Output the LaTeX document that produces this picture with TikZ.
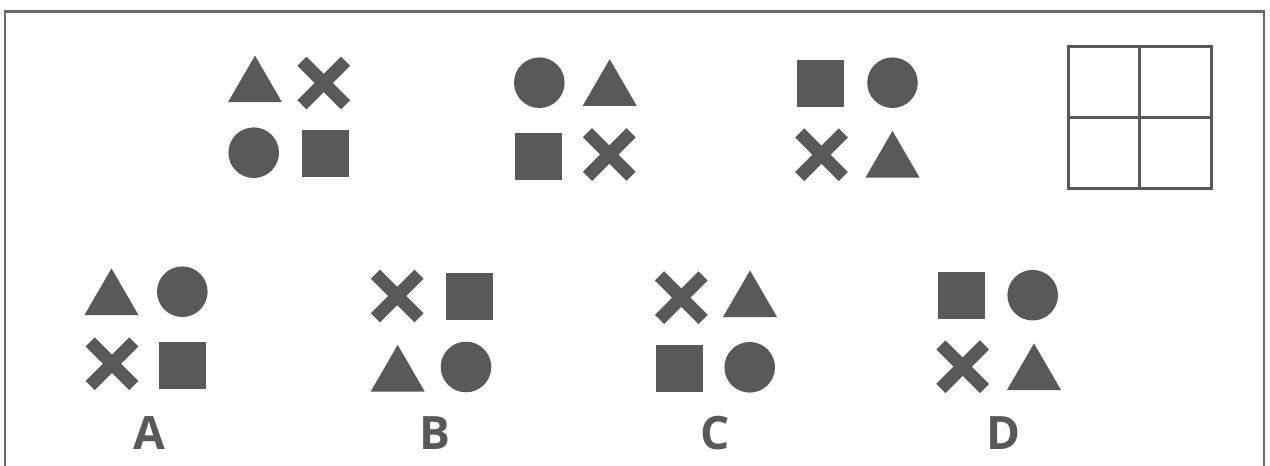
\documentclass[tikz,border=0pt]{standalone}
\usepackage{fontspec}
\newfontfamily\labelfont{Open Sans}
\definecolor{shapegray}{HTML}{58595B}
\definecolor{framegray}{HTML}{6A6A6A}
\tikzset{
  x=1pt, y=-1pt,
  shapefill/.style={fill=shapegray, draw=none},
  frameline/.style={draw=framegray, line width=2.2pt},
  gridline/.style={draw=shapegray, line width=2.6pt},
  optlabel/.style={text=shapegray, font=\labelfont\bfseries\fontsize{46}{46}\selectfont, anchor=base, inner sep=0pt},
  pics/tri/.style={code={\fill[shapegray] (-27,23.3) -- (27,23.3) -- (0,-23.3) -- cycle;}},
  pics/crossmark/.style={code={
    \draw[shapegray, line width=13pt, line cap=butt] (-21.8,-21.8) -- (21.8,21.8);
    \draw[shapegray, line width=13pt, line cap=butt] (-21.8,21.8) -- (21.8,-21.8);}},
  pics/sq/.style={code={\fill[shapegray] (-23.5,-23.5) rectangle (23.5,23.5);}},
  pics/disc/.style={code={\fill[shapegray] (0,0) circle[radius=25.3];}},
}
\begin{document}
\begin{tikzpicture}
\useasboundingbox (0,0) rectangle (1270,466);
% frame
\draw[frameline] (5,475) -- (5,11.5) -- (1264,11.5) -- (1264,475);
% empty grid
\draw[gridline] (1068.3,46.7) rectangle (1211.7,188.3);
\draw[gridline] (1139.5,46.7) -- (1139.5,188.3);
\draw[gridline] (1068.3,117.5) -- (1211.7,117.5);
% group 1
\pic at (255,78.9) {tri};
\pic at (323.7,83) {crossmark};
\pic at (253.7,152.7) {disc};
\pic at (325.5,153.3) {sq};
% group 2
\pic at (539.3,82.7) {disc};
\pic at (609.7,82.5) {tri};
\pic at (538.5,156.3) {sq};
\pic at (609.3,154.5) {crossmark};
% group 3
\pic at (820.5,83.5) {sq};
\pic at (892.5,82.7) {disc};
\pic at (821.5,154.7) {crossmark};
\pic at (892.5,154.2) {tri};
% option A
\pic at (111.5,291.7) {tri};
\pic at (182.3,291.7) {disc};
\pic at (112,363.8) {crossmark};
\pic at (182.5,365.2) {sq};
% option B
\pic at (397.3,296) {crossmark};
\pic at (469.7,296.3) {sq};
\pic at (397.7,368.2) {tri};
\pic at (466,367) {disc};
% option C
\pic at (681.3,297.7) {crossmark};
\pic at (750,293.7) {tri};
\pic at (679.7,368.5) {sq};
\pic at (749.7,367.3) {disc};
% option D
\pic at (961.5,295.5) {sq};
\pic at (1032.7,295.2) {disc};
\pic at (962.7,366.7) {crossmark};
\pic at (1034,366.7) {tri};
% labels
\node[optlabel] (labA) at (149,449.3) {A};
\node[optlabel] (labB) at (434.8,449.3) {B};
\node[optlabel] (labC) at (715,449.3) {C};
\node[optlabel] (labD) at (1003.3,449.3) {D};
\end{tikzpicture}
\end{document}
